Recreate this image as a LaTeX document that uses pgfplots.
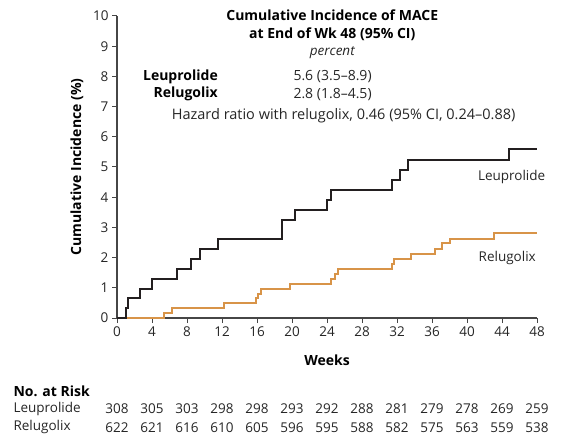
\documentclass[border=0pt]{standalone}
\usepackage{fontspec}
\setmainfont{Open Sans}
\usepackage{pgfplots}
\usepackage{pgfplotstable}
\pgfplotsset{compat=1.18}

\definecolor{leucol}{RGB}{35,31,32}
\definecolor{relcol}{RGB}{216,148,72}
\definecolor{axcol}{RGB}{70,70,70}

\newcommand{\txt}{\fontsize{13.5}{15}\selectfont}
\newcommand{\btxt}{\fontsize{14}{16}\selectfont\bfseries}

% Kaplan-Meier style cumulative incidence steps (weeks, percent)
\pgfplotstableread{
w    c
0    0
1.0  0.32
1.2  0.65
2.6  0.97
4.0  1.29
6.9  1.62
8.5  1.94
9.5  2.27
11.5 2.60
18.8 3.25
20.3 3.58
24.0 3.91
24.4 4.23
31.4 4.57
32.3 4.90
33.2 5.24
44.8 5.60
48   5.60
}\leuprolide

\pgfplotstableread{
w    c
0    0
5.4  0.16
6.3  0.32
12.2 0.49
15.9 0.65
16.1 0.81
16.5 0.97
19.8 1.14
24.4 1.30
24.9 1.47
25.3 1.63
31.4 1.79
31.7 1.96
33.6 2.12
36.3 2.30
37.1 2.47
38.0 2.63
43.1 2.80
48   2.80
}\relugolix

% Number at risk every 4 weeks
\pgfplotstableread{
w   leu  rel
0   308  622
4   305  621
8   303  616
12  298  610
16  298  605
20  293  596
24  292  595
28  288  588
32  281  582
36  279  575
40  278  563
44  269  559
48  259  538
}\atrisk

\begin{document}
\begin{tikzpicture}[x=1pt,y=1pt]
\path[use as bounding box] (0,0) rectangle (569,442);
\begin{axis}[
  at={(117pt,124pt)}, anchor=south west,
  scale only axis, width=420pt, height=302pt,
  xmin=0, xmax=48, ymin=0, ymax=10,
  axis x line*=bottom, axis y line*=left,
  axis line style={-, axcol, line width=1.1pt},
  xtick={0,4,...,48}, ytick={0,1,...,10},
  tick align=outside, major tick length=5pt,
  tick style={axcol, line width=1.0pt},
  tick label style={font=\fontsize{13.5}{15}\selectfont, text=black!85},
  /pgf/number format/assume math mode=true,
  every axis x label/.style={at={(axis description cs:0.5,-0.139)}, anchor=center},
  every axis y label/.style={at={(axis description cs:-0.0952,0.5)}, rotate=90, anchor=center},
  xlabel={\btxt Weeks},
  ylabel={\btxt Cumulative Incidence (\%)},
  clip=false,
]
\addplot[const plot, relcol, line width=2pt] table[x=w, y=c] {\relugolix};
\addplot[const plot, leucol, line width=2pt] table[x=w, y=c] {\leuprolide};

% number at risk rows
\addplot[draw=none, nodes near coords, point meta=explicit symbolic,
  nodes near coords style={anchor=center, font=\fontsize{13.5}{15}\selectfont, text=black!85}]
  table[x=w, y expr=-3.01, meta=leu] {\atrisk};
\addplot[draw=none, nodes near coords, point meta=explicit symbolic,
  nodes near coords style={anchor=center, font=\fontsize{13.5}{15}\selectfont, text=black!85}]
  table[x=w, y expr=-3.62, meta=rel] {\atrisk};

\node[anchor=west, font=\btxt, inner sep=0pt] at (axis cs:-11.85,-2.41) {No. at Risk};
\node[anchor=west, font=\txt, text=black!85, inner sep=0pt] at (axis cs:-11.85,-3.01) {Leuprolide};
\node[anchor=west, font=\txt, text=black!85, inner sep=0pt] at (axis cs:-11.85,-3.62) {Relugolix};

% curve labels
\node[font=\txt, text=black!85] at (axis cs:45.1,4.68) {Leuprolide};
\node[font=\txt, text=black!85] at (axis cs:44.6,2.00) {Relugolix};

% summary box
\node[font=\btxt] at (axis cs:24.6,10.02) {Cumulative Incidence of MACE};
\node[font=\btxt] at (axis cs:24.6,9.40) {at End of Wk 48 (95\% CI)};
\node[font=\txt\itshape, text=black!85] at (axis cs:24.6,8.78) {percent};
\node[anchor=east, font=\btxt, inner sep=0pt] at (axis cs:11.54,7.99) {Leuprolide};
\node[anchor=east, font=\btxt, inner sep=0pt] at (axis cs:11.54,7.41) {Relugolix};
\node[anchor=west, font=\fontsize{14}{16}\selectfont, text=black!85, inner sep=0pt] at (axis cs:20.15,7.99) {5.6 (3.5--8.9)};
\node[anchor=west, font=\fontsize{14}{16}\selectfont, text=black!85, inner sep=0pt] at (axis cs:20.15,7.41) {2.8 (1.8--4.5)};
\node[font=\fontsize{14.5}{16}\selectfont, text=black!85] at (axis cs:25.9,6.69) {Hazard ratio with relugolix, 0.46 (95\% CI, 0.24--0.88)};
\end{axis}
\end{tikzpicture}
\end{document}
